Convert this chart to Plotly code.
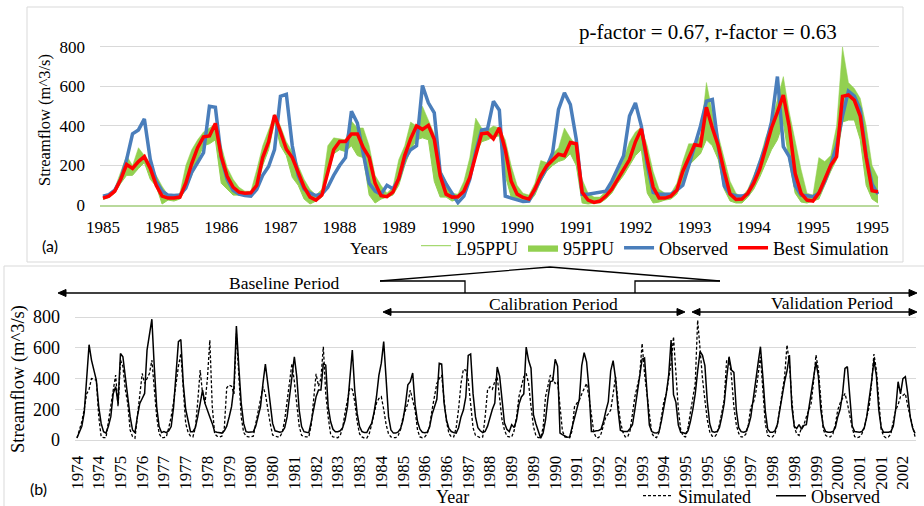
import plotly.graph_objects as go

W, H = 924, 506
def fx(x): return x / W
def fy(y): return 1 - y / H

SERIF = "Liberation Serif"
SANS = "Lato"

# ---------------- data: panel (a) 1985-1995 monthly ----------------
top_tick_labels = ["1985", "1985", "1986", "1987", "1988", "1989", "1990",
                   "1990", "1991", "1992", "1993", "1994", "1995", "1995"]

obs_top = [
    45, 52, 75, 130, 230, 360, 380, 436, 230, 120, 70, 50,      # 1985
    48, 50, 85, 165, 215, 265, 500, 495, 240, 130, 75, 55,      # 1986
    48, 45, 80, 150, 195, 280, 550, 560, 300, 150, 80, 60,      # 1987
    48, 55, 90, 150, 200, 240, 475, 415, 260, 110, 70, 55,      # 1988
    100, 82, 131, 232, 280, 300, 605, 517, 467, 164, 106, 60,   # 1989
    12, 45, 130, 270, 380, 385, 525, 480, 45, 35, 25, 18,       # 1990
    20, 80, 130, 190, 265, 484, 568, 509, 333, 55, 55, 60,      # 1991
    62, 70, 120, 190, 249, 450, 517, 400, 200, 64, 55, 55,      # 1992
    55, 75, 100, 198, 299, 400, 526, 534, 299, 97, 55, 47,      # 1993
    45, 55, 125, 210, 300, 420, 650, 295, 245, 97, 50, 47,      # 1994
    42, 60, 120, 200, 300, 450, 576, 551, 484, 249, 106, 55,    # 1995
]
sim_top = [
    35, 45, 70, 130, 205, 185, 220, 245, 185, 100, 45, 35,
    35, 40, 110, 210, 290, 345, 350, 413, 245, 145, 90, 65,
    60, 62, 100, 240, 320, 455, 370, 282, 240, 160, 90, 40,
    25, 50, 170, 280, 322, 322, 360, 360, 290, 241, 110, 47,
    42, 65, 135, 250, 335, 400, 383, 403, 333, 148, 55, 40,
    42, 70, 140, 250, 360, 365, 335, 390, 280, 120, 55, 38,
    30, 80, 148, 198, 230, 257, 250, 316, 310, 64, 25, 13,
    20, 45, 80, 130, 175, 230, 320, 385, 230, 90, 35, 35,
    45, 75, 170, 240, 305, 300, 495, 390, 300, 170, 55, 28,
    30, 60, 110, 180, 290, 390, 470, 557, 396, 160, 59, 25,
    20, 60, 130, 200, 245, 550, 557, 530, 450, 240, 72, 67,
]
l95_top = [
    28, 38, 60, 110, 150, 150, 185, 215, 130, 95, 5, 25,
    20, 30, 80, 150, 230, 300, 310, 330, 110, 80, 50, 50,
    50, 50, 80, 200, 280, 420, 300, 250, 140, 100, 30, 5,
    20, 40, 150, 260, 280, 270, 300, 250, 240, 50, 10, 30,
    40, 50, 100, 200, 280, 330, 340, 330, 120, 40, 40, 20,
    30, 60, 150, 260, 320, 330, 345, 350, 150, 40, 30, 25,
    15, 50, 120, 170, 200, 220, 230, 260, 200, 10, 5, 10,
    10, 30, 60, 110, 150, 200, 250, 280, 60, 10, 15, 25,
    30, 55, 120, 200, 230, 260, 330, 300, 230, 80, 20, 10,
    10, 40, 80, 140, 210, 280, 330, 420, 220, 60, 15, 10,
    20, 30, 100, 170, 230, 420, 430, 430, 330, 100, 30, 10,
]
u95_top = [
    42, 55, 85, 170, 250, 200, 290, 250, 210, 150, 95, 50,
    45, 60, 200, 280, 330, 370, 390, 410, 300, 190, 130, 90,
    70, 70, 180, 300, 380, 460, 400, 320, 270, 200, 130, 80,
    50, 80, 300, 340, 335, 330, 425, 390, 390, 300, 150, 100,
    60, 90, 230, 300, 420, 400, 500, 430, 360, 180, 120, 60,
    55, 120, 240, 440, 390, 380, 400, 390, 330, 200, 100, 60,
    50, 110, 225, 215, 260, 290, 390, 340, 300, 130, 60, 40,
    40, 70, 110, 170, 230, 320, 370, 395, 300, 170, 80, 60,
    60, 110, 220, 310, 310, 350, 620, 470, 350, 230, 120, 60,
    40, 80, 150, 230, 340, 420, 530, 650, 470, 330, 180, 60,
    50, 240, 220, 250, 400, 800, 620, 590, 540, 400, 200, 140,
]

# ---------------- data: panel (b) 1974-2002 monthly ----------------
bottom_tick_labels = ["1974", "1974", "1975", "1976", "1977", "1977", "1978",
                      "1979", "1980", "1980", "1981", "1982", "1983", "1983",
                      "1984", "1985", "1986", "1986", "1987", "1988", "1989",
                      "1989", "1990", "1991", "1992", "1992", "1993", "1994",
                      "1995", "1995", "1996", "1997", "1998", "1998", "1999",
                      "2000", "2001", "2001", "2002"]

obs_early = [
    15, 50, 90, 180, 400, 620, 520, 450, 390, 216, 108, 54,     # 1974
    45, 90, 152, 303, 347, 238, 563, 542, 400, 282, 152, 65,    # 1975
    48, 152, 238, 270, 303, 585, 690, 786, 477, 216, 87, 48,    # 1976
    55, 48, 60, 87, 216, 430, 640, 654, 368, 200, 130, 54,      # 1977
    54, 80, 152, 240, 325, 238, 200, 150, 108, 54, 50, 48,      # 1978
    45, 60, 90, 150, 217, 347, 741, 477, 238, 108, 54, 50,      # 1979
    50, 54, 90, 152, 217, 368, 494, 368, 217, 108, 60, 54,      # 1980
    50, 54, 80, 150, 282, 400, 542, 412, 195, 87, 54, 50,       # 1981
    48, 120, 200, 282, 325, 325, 498, 487, 217, 120, 70, 54,    # 1982
    54, 60, 80, 130, 217, 400, 585, 325, 173, 87, 55, 48,       # 1983
    48, 80, 108, 180, 280, 420, 500, 640, 412, 152, 65, 45,     # 1984
]
obs_late = [
    50, 55, 80, 150, 238, 400, 542, 455, 440, 195, 80, 54,      # 1996
    50, 55, 90, 150, 250, 380, 498, 607, 412, 190, 70, 50,      # 1997
    50, 60, 100, 200, 300, 380, 450, 553, 216, 90, 75, 100,     # 1998
    70, 95, 100, 200, 282, 412, 509, 412, 195, 90, 55, 50,      # 1999
    50, 55, 80, 150, 200, 300, 466, 477, 260, 90, 55, 50,       # 2000
    50, 55, 80, 150, 250, 380, 520, 420, 195, 80, 50, 48,       # 2001
    50, 55, 90, 200, 379, 300, 400, 412, 300, 152, 80, 43,      # 2002
]
sim_bottom = [
    12, 60, 120, 200, 300, 330, 400, 395, 390, 152, 22, 15,     # 1974
    15, 120, 238, 325, 422, 217, 520, 480, 330, 238, 65, 22,    # 1975
    12, 150, 300, 433, 368, 400, 433, 520, 350, 150, 43, 15,    # 1976
    15, 22, 80, 152, 250, 368, 480, 563, 350, 108, 50, 25,      # 1977
    20, 80, 250, 455, 300, 238, 400, 650, 220, 40, 25, 20,      # 1978
    25, 80, 340, 357, 350, 300, 693, 420, 150, 50, 25, 20,      # 1979
    20, 25, 108, 200, 282, 347, 300, 200, 108, 33, 25, 20,      # 1980
    20, 50, 130, 250, 380, 498, 380, 220, 90, 30, 22, 20,       # 1981
    20, 100, 250, 430, 350, 400, 607, 300, 150, 40, 20, 15,     # 1982
    15, 30, 80, 180, 260, 340, 330, 250, 120, 40, 20, 12,       # 1983
    12, 40, 100, 180, 240, 270, 282, 200, 100, 40, 20, 15,      # 1984
    15, 30, 70, 150, 195, 238, 325, 250, 195, 65, 20, 15,       # 1985
    20, 40, 90, 195, 280, 368, 400, 422, 260, 120, 43, 20,      # 1986
    20, 80, 200, 368, 460, 455, 390, 217, 80, 30, 20, 15,       # 1987
    20, 150, 325, 347, 330, 380, 412, 260, 130, 65, 25, 20,     # 1988
    20, 60, 150, 282, 350, 412, 433, 368, 217, 87, 30, 15,      # 1989
    15, 80, 282, 350, 422, 400, 368, 380, 195, 60, 20, 15,      # 1990
    15, 60, 216, 240, 260, 300, 330, 368, 280, 150, 50, 15,     # 1991
    15, 40, 100, 152, 170, 195, 300, 412, 250, 120, 54, 20,     # 1992
    20, 60, 170, 282, 350, 420, 628, 433, 300, 150, 45, 20,     # 1993
    15, 50, 150, 250, 300, 400, 500, 672, 412, 200, 65, 25,     # 1994
    20, 80, 180, 282, 368, 780, 585, 400, 260, 130, 54, 25,     # 1995
    20, 40, 100, 173, 260, 520, 531, 412, 216, 100, 43, 20,     # 1996
    20, 40, 100, 216, 238, 300, 420, 542, 325, 108, 30, 20,     # 1997
    20, 40, 100, 200, 282, 412, 618, 498, 260, 87, 40, 30,      # 1998
    80, 100, 150, 195, 238, 380, 553, 455, 238, 70, 30, 20,     # 1999
    20, 40, 100, 195, 240, 270, 303, 238, 152, 80, 22, 15,      # 2000
    20, 40, 80, 150, 216, 368, 559, 455, 238, 70, 25, 15,       # 2001
    20, 40, 120, 195, 230, 282, 290, 303, 220, 150, 87, 22,     # 2002
]

obs_bottom = obs_early + obs_top + obs_late
assert len(obs_top) == 132 and len(sim_top) == 132
assert len(l95_top) == 132 and len(u95_top) == 132
assert len(obs_bottom) == 348 and len(sim_bottom) == 348

months_top = list(range(len(obs_top)))
months_bottom = list(range(len(obs_bottom)))

GREEN = "#92D050"
BLUE = "#4A7EBB"
RED = "#FF0000"

fig = go.Figure()
fig.add_trace(go.Scatter(x=months_top, y=l95_top, name="L95PPU", mode="lines",
                         line=dict(color=GREEN, width=1), fill="tozeroy",
                         fillcolor="rgba(255,255,255,0)", xaxis="x", yaxis="y",
                         legend="legend"))
fig.add_trace(go.Scatter(x=months_top, y=u95_top, name="95PPU", mode="lines",
                         line=dict(color=GREEN, width=0.5), fill="tonexty",
                         fillcolor=GREEN, xaxis="x", yaxis="y", legend="legend"))
fig.add_trace(go.Scatter(x=months_top, y=obs_top, name="Observed", mode="lines",
                         line=dict(color=BLUE, width=3.5), xaxis="x", yaxis="y",
                         legend="legend"))
fig.add_trace(go.Scatter(x=months_top, y=sim_top, name="Best Simulation", mode="lines",
                         line=dict(color=RED, width=3.5), xaxis="x", yaxis="y",
                         legend="legend"))
fig.add_trace(go.Scatter(x=months_bottom, y=sim_bottom, name="Simulated", mode="lines",
                         line=dict(color="black", width=1.3, dash="3px,2px"),
                         xaxis="x2", yaxis="y2", legend="legend2"))
fig.add_trace(go.Scatter(x=months_bottom, y=obs_bottom, name="Observed", mode="lines",
                         line=dict(color="black", width=1.5),
                         xaxis="x2", yaxis="y2", legend="legend3"))

tickfont = dict(family=SERIF, size=17, color="black")
legfont = dict(family=SERIF, size=18, color="black")

fig.update_layout(
    width=W, height=H,
    margin=dict(l=0, r=0, t=0, b=0, autoexpand=False),
    paper_bgcolor="white", plot_bgcolor="white",
    font=dict(family=SERIF, size=17, color="black"),
    showlegend=True,
    xaxis=dict(domain=[fx(100), fx(879)], range=[-0.5, 131.17], anchor="y",
               automargin=False,
               tickmode="array", tickvals=list(range(0, 132, 10)),
               ticktext=top_tick_labels, showgrid=False, zeroline=False,
               showline=True, linecolor="#b9d99c", linewidth=1.5,
               tickfont=tickfont, ticks="", ticklabelstandoff=6),
    yaxis=dict(domain=[fy(205), fy(45)], range=[0, 810], anchor="x",
               automargin=False,
               tickmode="array", tickvals=[0, 200, 400, 600, 800],
               showgrid=True, gridcolor="#d9d9d9", gridwidth=1, zeroline=False,
               showline=False, tickfont=tickfont, ticks="", ticklabelstandoff=14),
    xaxis2=dict(domain=[fx(75), fx(916)], range=[-0.83, 347.41], anchor="y2",
                automargin=False,
                tickmode="array", tickvals=list(range(0, 343, 9)),
                ticktext=bottom_tick_labels, tickangle=-90, showgrid=False,
                zeroline=False, showline=True, linecolor="#d9d9d9", linewidth=1,
                tickfont=dict(family=SERIF, size=17, color="black"), ticks="",
                ticklabelstandoff=8),
    yaxis2=dict(domain=[fy(440), fy(314)], range=[0, 820], anchor="x2",
                automargin=False,
                tickmode="array", tickvals=[0, 200, 400, 600, 800],
                showgrid=True, gridcolor="#d9d9d9", gridwidth=1, zeroline=False,
                showline=False, tickfont=dict(family=SERIF, size=18, color="black"),
                ticks="", ticklabelstandoff=14),
    legend=dict(orientation="h", xref="container", yref="container",
                x=fx(416), y=fy(248), xanchor="left",
                yanchor="middle", font=legfont,
                bgcolor="rgba(0,0,0,0)", itemwidth=30, traceorder="normal"),
    legend2=dict(orientation="h", xref="container", yref="container",
                 x=fx(638), y=fy(496), xanchor="left",
                 yanchor="middle", font=legfont,
                 bgcolor="rgba(0,0,0,0)", itemwidth=30),
    legend3=dict(orientation="h", xref="container", yref="container",
                 x=fx(771), y=fy(496), xanchor="left",
                 yanchor="middle", font=legfont,
                 bgcolor="rgba(0,0,0,0)", itemwidth=30),
)

def path(points, close=False):
    s = "M " + " L ".join(f"{fx(x):.5f},{fy(y):.5f}" for x, y in points)
    return s + (" Z" if close else "")

shapes = []
# panel borders
shapes.append(dict(type="rect", xref="paper", yref="paper", x0=fx(27), x1=fx(903),
                   y0=fy(262), y1=fy(7), line=dict(color="#d9d9d9", width=1),
                   layer="below"))
shapes.append(dict(type="rect", xref="paper", yref="paper", x0=fx(4), x1=fx(935),
                   y0=fy(520), y1=fy(266), line=dict(color="#d9d9d9", width=1),
                   layer="below"))
line_style = dict(color="black", width=1.3)
def hline(x0, x1, y):
    shapes.append(dict(type="line", xref="paper", yref="paper", x0=fx(x0), x1=fx(x1),
                       y0=fy(y), y1=fy(y), line=line_style))
def head(tipx, y, direction):
    d = 8 * direction
    shapes.append(dict(type="path", xref="paper", yref="paper",
                       path=path([(tipx, y), (tipx - d, y - 3.5), (tipx - d, y + 3.5)], True),
                       fillcolor="black", line=dict(color="black", width=1)))
# Baseline period arrow
hline(62, 913, 293)
head(58, 293, -1)
head(917, 293, 1)
# Calibration period arrow
hline(387, 681, 312)
head(383, 312, -1)
head(685, 312, 1)
# Validation period arrow
hline(696, 913, 312)
head(692, 312, -1)
head(917, 312, 1)
# callout bracket
shapes.append(dict(type="path", xref="paper", yref="paper",
                   path=path([(380, 281), (465, 281), (465, 293)]), line=line_style))
shapes.append(dict(type="path", xref="paper", yref="paper",
                   path=path([(635, 293), (635, 281), (720, 281)]), line=line_style))
shapes.append(dict(type="path", xref="paper", yref="paper",
                   path=path([(380, 281), (550, 267), (720, 281)]), line=line_style))
fig.update_layout(shapes=shapes)

def ann(text, x, y, size, family=SERIF, angle=0):
    return dict(text=text, x=fx(x), y=fy(y), xref="paper", yref="paper",
                showarrow=False, xanchor="center", yanchor="middle",
                textangle=angle, font=dict(family=family, size=size, color="black"))

fig.update_layout(annotations=[
    ann("p-factor = 0.67, r-factor = 0.63", 708, 32, 21),
    ann("Streamflow (m^3/s)", 45, 120, 16.5, angle=-90),
    ann("Years", 369, 248, 17),
    ann("(a)", 50, 245, 16, family=SANS),
    ann("Streamflow (m^3/s)", 18, 379, 18.5, angle=-90),
    ann("Year", 452, 497, 18),
    ann("(b)", 38, 488, 16, family=SANS),
    ann("Baseline Period", 284, 283, 17.5),
    ann("Calibration Period", 553, 304, 17.5),
    ann("Validation Period", 832, 303, 17.5),
])

fig.write_html("out.html",
               config={"displayModeBar": False},
               post_script="document.body.style.margin='0px';"
                           "document.body.style.overflow='hidden';")
